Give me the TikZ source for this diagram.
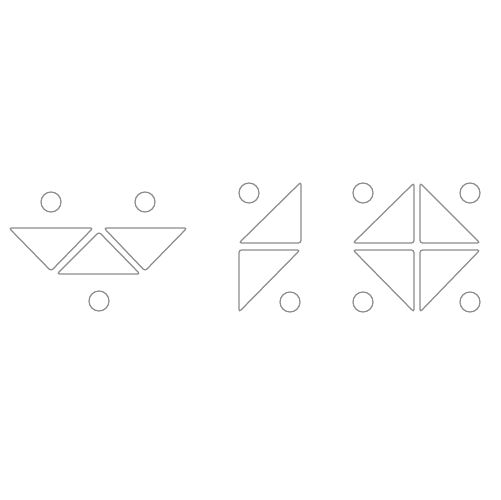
\documentclass[tikz,border=0pt]{standalone}
\usepackage{tikz}
\tikzset{
	piece/.style={draw=gray!90, line width=.7pt, rounded corners=1.5pt},
	dot/.style={draw=gray!90, line width=.7pt}
}
\begin{document}
\begin{tikzpicture}[x=.02cm,y=-.02cm]
\useasboundingbox (0,0) rectangle (500,500);
% left group
\draw[piece] (9,228) -- (93,228) -- (51,271) -- cycle;
\draw[piece] (99,232) -- (140,274) -- (57,274) -- cycle;
\draw[piece] (104,228) -- (187,228) -- (145,271) -- cycle;
\draw[dot] (51,202) circle (10);
\draw[dot] (145,202) circle (10);
\draw[dot] (99,301) circle (10);
% middle group
\draw[piece] (301,182) -- (301,243) -- (239,243) -- cycle;
\draw[piece] (239,250) -- (300,250) -- (239,312) -- cycle;
\draw[dot] (249,193) circle (10);
\draw[dot] (290,302) circle (10);
% right group
\draw[piece] (414,183) -- (414,243) -- (353,243) -- cycle;
\draw[piece] (420,183) -- (480,243) -- (420,243) -- cycle;
\draw[piece] (353,250) -- (414,250) -- (414,312) -- cycle;
\draw[piece] (420,250) -- (480,250) -- (420,312) -- cycle;
\draw[dot] (363,193) circle (10);
\draw[dot] (470,193) circle (10);
\draw[dot] (363,302) circle (10);
\draw[dot] (470,302) circle (10);
\end{tikzpicture}
\end{document}
